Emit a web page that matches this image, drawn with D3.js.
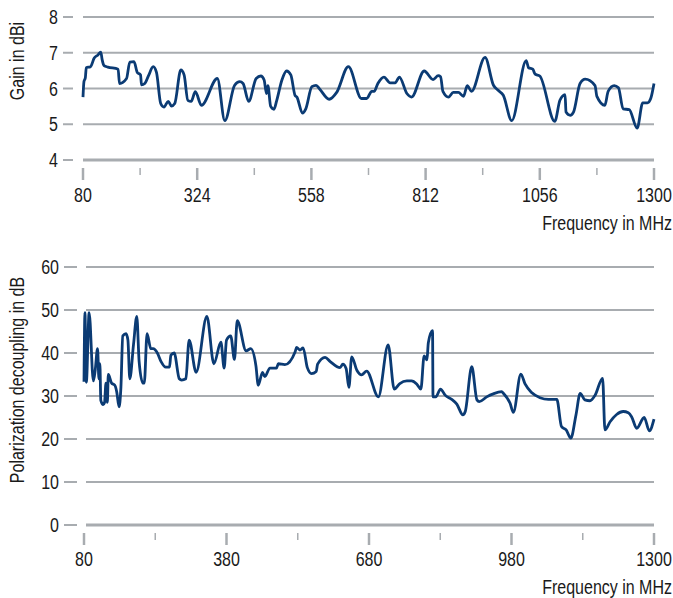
<!DOCTYPE html>
<html lang="en">
<head>
	<meta charset="UTF-8">
	<title>Gain and polarization decoupling</title>
	<script src="https://cdn.jsdelivr.net/npm/d3@7/dist/d3.min.js"></script>
	<style>
		body{margin:0;background:#fff;}
		text{font-family:"Liberation Sans",Arial,sans-serif;fill:#1a1a1a;}
	</style>
</head>
<body>
<script type="text/javascript">
// gain curve, frequency in MHz / gain in dBi
var gainFreq = [80,82,85,87,96,104,112,118,121,125,133,155,158,173,180,189,196,203,205,212,220,230,237,246,253,262,269,276,289,296,304,311,320,333,367,383,404,415,422,434,450,460,467,472,475,481,488,
	494,505,515,524,533,537,549,556,569,578,586,606,622,647,675,686,697,702,710,723,736,747,756,772,782,809,828,839,844,849,861,871,882,893,901,910,939,957,967,978,996,
	1027,1032,1041,1046,1056,1088,1099,1110,1112,1121,1128,1142,1153,1174,1178,1195,1202,1215,1224,1234,1247,1264,1276,1286,1293,1300];
var gainValues = [5.76,6.19,6.3,6.58,6.61,6.85,6.94,7.02,6.8,6.64,6.6,6.54,6.14,6.28,6.74,6.75,6.45,6.38,6.1,6.14,6.36,6.61,6.45,5.58,5.48,5.64,5.51,5.58,6.52,6.38,5.67,5.64,5.91,5.53,6.28,5.1,6.09,6.19,6.14,5.64,6.28,6.35,6.24,5.86,6.08,5.5,5.42,
	5.67,6.24,6.49,6.38,5.81,5.76,5.31,5.43,6.05,6.09,5.98,5.7,5.89,6.61,5.72,5.72,5.92,5.92,6.14,6.32,6.16,6.16,6.32,5.86,5.76,6.49,6.25,6.36,6.33,5.92,5.76,5.89,5.89,5.78,6.08,5.92,6.87,6.09,5.95,5.81,5.1,
	6.78,6.58,6.54,6.4,6.35,5.08,5.67,5.83,5.34,5.25,5.34,6.14,6.26,6.08,5.78,5.53,5.92,6.08,6.02,5.43,5.41,4.89,5.6,5.6,5.72,6.14];
var gainTicks = [4,5,6,7,8];
var gainXLabels = ["80","324","558","812","1056","1300"];

// polarization decoupling, frequency in MHz / decoupling in dB
var decFreq = [80,82,85,91,100,104,109,112,114,116,121,124,127,130,132,139,146,150,155,159,163,170,174,178,186,193,198,206,209,215,223,228,237,245,255,263,266,273,284,289,298,305,320,343,358,373,380,385,394,402,408,427,437,448,453,462,467,478,492,496,510,
	532,535,542,549,558,567,577,580,596,607,628,634,641,647,653,664,674,685,710,731,744,756,771,781,792,801,808,814,817,826,827,833,843,853,867,878,891,896,910,921,926,942,956,974,978,992,999,
	1015,1024,1038,1056,1074,1092,1102,1112,1122,1133,1142,1152,1163,1174,1190,1195,1206,1220,1234,1245,1252,1263,1279,1290,1300];
var decValues = [33.3,49.4,33.2,49.4,33.5,36,41,34,37.5,29,28,28.5,33,28.5,35,33,32.5,31,27.5,32,44,44.5,43,34,42,48.5,38,33,33,44.5,41,41,40,38,36.7,36.7,39.5,40,34,33.7,34,43,35.5,48.5,37.5,42.5,36.5,43,44,38.5,47.5,40.5,41,37,32.5,35.5,34.5,36.5,36.5,37.5,37.3,
	40.3,41.3,40.7,41.2,36.6,35.2,35.7,37.4,39,38,36.6,37.4,36.4,32,39.1,36,34.9,35.8,29.8,41.9,31.6,32.9,33.5,33.5,32.8,31.6,39.3,38.4,42.4,45.2,29.8,29.8,31.6,30.2,29.2,28.1,25.6,26.4,36.8,29.1,28.7,29.8,30.5,31,30.6,28.3,26.2,
	35.1,32.8,30.8,29.6,29.2,29.2,22.9,22.1,20.2,25.6,30.6,29.1,28.9,30.2,34.1,22.1,24,25.7,26.4,26.1,25.2,22.5,25,21.9,24.6];
var decTicks = [0,10,20,30,40,50,60];
var decXLabels = ["80","380","680","980","1300"];

var width = 673, height = 598;
var lineColor = "#0b3b74", gridColor = "#a8acb0";
var squeeze = 0.8; // condensed look

var svg = d3.select("body").append("svg").attr("width",width).attr("height",height);

// narrow text: translate, optional rotate, then horizontal squeeze
function label(g,x,y,anchor,str,rot){
	return g.append("text")
		.attr("transform","translate("+x+","+y+")"+(rot?" rotate("+rot+")":"")+" scale("+squeeze+",1)")
		.attr("text-anchor",anchor).attr("font-size","20px").text(str);
}

function drawPanel(cfg){
	var g = svg.append("g");
	var x = d3.scaleLinear().domain([80,1300]).range([cfg.x0,cfg.x1]);
	var y = d3.scaleLinear().domain(cfg.yDomain).range([cfg.yBottom,cfg.yTop]);

	// grid lines
	g.selectAll(".grid").data(cfg.yTicks).enter().append("line")
		.attr("x1",cfg.gx0).attr("x2",cfg.x1)
		.attr("y1",function(d){return y(d);}).attr("y2",function(d){return y(d);})
		.attr("stroke",gridColor)
		.attr("stroke-width",function(d,i){return i==0?3:2;});
	// short dashes left of the grid
	g.selectAll(".dash").data(cfg.yTicks).enter().append("line")
		.attr("x1",cfg.dash0).attr("x2",cfg.dash1)
		.attr("y1",function(d){return y(d);}).attr("y2",function(d){return y(d);})
		.attr("stroke",gridColor).attr("stroke-width",2);
	cfg.yTicks.forEach(function(d){
		label(g,cfg.dash0-5,y(d)+7,"end",d);
	});

	// x ticks, labelled evenly
	var n = cfg.xLabels.length-1;
	var step = 1220/n;
	var major = d3.range(n+1).map(function(i){return 80+i*step;});
	var minor = d3.range(n).map(function(i){return 80+(i+0.5)*step;});
	g.selectAll(".maj").data(major).enter().append("line")
		.attr("x1",function(d){return x(d);}).attr("x2",function(d){return x(d);})
		.attr("y1",cfg.tickY).attr("y2",cfg.tickY+12)
		.attr("stroke",gridColor).attr("stroke-width",2.5);
	g.selectAll(".min").data(minor).enter().append("line")
		.attr("x1",function(d){return x(d);}).attr("x2",function(d){return x(d);})
		.attr("y1",cfg.tickY).attr("y2",cfg.tickY+7)
		.attr("stroke",gridColor).attr("stroke-width",1.5);
	major.forEach(function(d,i){
		label(g,x(d),cfg.labelY,"middle",cfg.xLabels[i]);
	});
	label(g,672,cfg.titleY,"end","Frequency in MHz");
	label(g,24,cfg.yTitleC,"middle",cfg.yTitle,-90);

	var line = d3.line().x(function(d){return x(d[0]);}).y(function(d){return y(d[1]);})
		.curve(d3.curveMonotoneX);
	g.append("path").datum(d3.zip(cfg.freq,cfg.values))
		.attr("d",line).attr("fill","none")
		.attr("stroke",lineColor).attr("stroke-width",2.8)
		.attr("stroke-linejoin","round");
}

drawPanel({x0:83,x1:654,gx0:83,dash0:63,dash1:73,yDomain:[4,8],yBottom:160,yTop:17,yTicks:gainTicks,
	tickY:168,labelY:202,titleY:230,xLabels:gainXLabels,yTitle:"Gain in dBi",yTitleC:61,
	freq:gainFreq,values:gainValues});
drawPanel({x0:84,x1:654,gx0:86,dash0:64,dash1:77,yDomain:[0,60],yBottom:525,yTop:267,yTicks:decTicks,
	tickY:533,labelY:566,titleY:594,xLabels:decXLabels,yTitle:"Polarization decoupling in dB",yTitleC:380,
	freq:decFreq,values:decValues});
</script>
</body>
</html>
